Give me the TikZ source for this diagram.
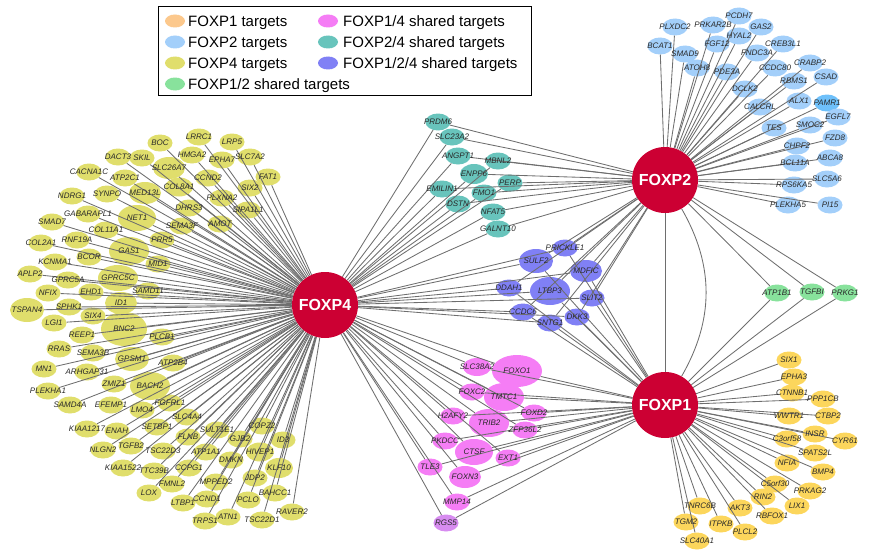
\documentclass[tikz,border=0pt]{standalone}
\usepackage{fontspec}
\setmainfont{Liberation Sans}
\usetikzlibrary{shapes.geometric}
\pgfdeclarelayer{fg}
\pgfsetlayers{main,fg}
\definecolor{hubc}{RGB}{204,0,51}
\definecolor{cA}{RGB}{252,214,92}
\definecolor{cAleg}{RGB}{252,200,140}
\definecolor{cB}{RGB}{163,207,250}
\definecolor{cBb}{RGB}{110,192,250}
\definecolor{cC}{RGB}{224,222,108}
\definecolor{cAC}{RGB}{245,125,245}
\definecolor{cRGS}{RGB}{215,140,240}
\definecolor{cBC}{RGB}{104,196,188}
\definecolor{cABC}{RGB}{128,128,245}
\definecolor{cAB}{RGB}{136,226,156}
\definecolor{lblc}{RGB}{40,40,40}
\definecolor{edgec}{RGB}{110,110,110}
\tikzset{
 tgt/.style={ellipse, inner sep=0pt, draw=none},
 lbl/.style={font=\fontsize{8}{8}\selectfont\itshape, text=lblc, inner sep=0pt},
 hubnode/.style={circle, fill=hubc, minimum size=66pt, inner sep=0pt, text=white, font=\fontsize{16}{16}\selectfont\bfseries},
 edge/.style={draw=edgec, line width=0.85pt},
 legtxt/.style={font=\fontsize{15}{15}\selectfont, anchor=base west, inner sep=0pt},
 legdot/.style={ellipse, inner sep=0pt, minimum width=20pt, minimum height=13pt},
}
\newcommand{\tg}[6]{%
 \node[tgt, fill=#1, minimum width=#5pt, minimum height=#6pt] (#4) at (#2,#3) {};
 \begin{pgfonlayer}{fg}\node[lbl] (#4-l) at (#2,#3) {#4};\end{pgfonlayer}}
\newcommand{\ts}[4]{\tg{#1}{#2}{#3}{#4}{25}{17}}
\begin{document}
\begin{tikzpicture}[x=1pt,y=-1pt]
\useasboundingbox (0,0) rectangle (875,551);
% hubs
\begin{pgfonlayer}{fg}
\node[hubnode] (FOXP4) at (325,305) {FOXP4};
\node[hubnode] (FOXP2) at (665,180) {FOXP2};
\node[hubnode] (FOXP1) at (665,405) {FOXP1};
\end{pgfonlayer}
% FOXP4 targets
\ts{cC}{160}{143}{BOC}
\ts{cC}{199}{137}{LRRC1}
\ts{cC}{232}{142}{LRP5}
\ts{cC}{192}{155}{HMGA2}
\ts{cC}{118}{157}{DACT3}
\ts{cC}{142}{158}{SKIL}
\ts{cC}{222}{160}{EPHA7}
\ts{cC}{250}{157}{SLC7A2}
\tg{cC}{169}{168}{SLC26A7}{32}{22}
\ts{cC}{89}{172}{CACNA1C}
\ts{cC}{208}{178}{CCND2}
\ts{cC}{268}{177}{FAT1}
\ts{cC}{125}{178}{ATP2C1}
\tg{cC}{179}{187}{COL8A1}{28}{19}
\ts{cC}{250}{188}{SIX2}
\ts{cC}{72}{196}{NDRG1}
\ts{cC}{107}{194}{SYNPO}
\tg{cC}{145}{193}{MED13L}{32}{22}
\ts{cC}{222}{198}{PLXNA2}
\ts{cC}{189}{208}{DHRS3}
\ts{cC}{248}{210}{SIPA1L1}
\ts{cC}{88}{214}{GABARAPL1}
\tg{cC}{137}{218}{NET1}{38}{26}
\ts{cC}{52}{222}{SMAD7}
\ts{cC}{220}{224}{AMOT}
\ts{cC}{182}{226}{SEMA3F}
\ts{cC}{106}{230}{COL11A1}
\ts{cC}{162}{240}{PRR5}
\ts{cC}{77}{240}{RNF19A}
\ts{cC}{41}{243}{COL2A1}
\tg{cC}{129}{251}{GAS1}{40}{28}
\ts{cC}{89}{257}{BCOR}
\ts{cC}{158}{264}{MID1}
\ts{cC}{55}{262}{KCNMA1}
\ts{cC}{30}{274}{APLP2}
\tg{cC}{118}{278}{GPRC5C}{40}{26}
\ts{cC}{68}{280}{GPRC5A}
\ts{cC}{148}{291}{SAMD11}
\ts{cC}{91}{292}{EHD1}
\ts{cC}{48}{293}{NFIX}
\tg{cC}{121}{303}{ID1}{32}{22}
\tg{cC}{27}{310}{TSPAN4}{34}{24}
\ts{cC}{69}{307}{SPHK1}
\ts{cC}{93}{316}{SIX4}
\ts{cC}{54}{323}{LGI1}
\tg{cC}{124}{329}{BNC2}{46}{34}
\ts{cC}{82}{335}{REEP1}
\ts{cC}{162}{337}{PLCB1}
\ts{cC}{59}{349}{RRAS}
\ts{cC}{93}{353}{SEMA3B}
\tg{cC}{132}{359}{GPSM1}{34}{24}
\ts{cC}{173}{363}{ATP2B4}
\ts{cC}{44}{369}{MN1}
\ts{cC}{87}{372}{ARHGAP31}
\ts{cC}{114}{384}{ZMIZ1}
\tg{cC}{150}{386}{BACH2}{40}{28}
\ts{cC}{48}{391}{PLEKHA1}
\ts{cC}{70}{405}{SAMD4A}
\ts{cC}{111}{405}{EFEMP1}
\ts{cC}{142}{410}{LMO4}
\ts{cC}{170}{403}{FGFRL1}
\ts{cC}{187}{417}{SLC4A4}
\ts{cC}{87}{429}{KIAA1217}
\ts{cC}{117}{431}{ENAH}
\ts{cC}{157}{427}{SETBP1}
\ts{cC}{217}{430}{SULT1E1}
\ts{cC}{262}{426}{COPZ2}
\ts{cC}{188}{437}{FLNB}
\ts{cC}{240}{439}{GJB2}
\ts{cC}{283}{440}{ID3}
\ts{cC}{103}{450}{NLGN2}
\ts{cC}{131}{446}{TGFB2}
\ts{cC}{163}{451}{TSC22D3}
\ts{cC}{206}{452}{ATP1A1}
\tg{cC}{260}{452}{HIVEP1}{28}{19}
\ts{cC}{231}{460}{DMKN}
\tg{cC}{279}{468}{KLF10}{28}{20}
\ts{cC}{123}{468}{KIAA1522}
\ts{cC}{154}{471}{TTC39B}
\ts{cC}{189}{468}{CCPG1}
\ts{cC}{255}{478}{JDP2}
\ts{cC}{172}{484}{FMNL2}
\ts{cC}{216}{482}{MPPED2}
\ts{cC}{149}{493}{LOX}
\ts{cC}{275}{493}{BAHCC1}
\ts{cC}{183}{503}{LTBP1}
\ts{cC}{207}{499}{CCND1}
\ts{cC}{248}{500}{PCLO}
\ts{cC}{292}{512}{RAVER2}
\ts{cC}{205}{521}{TRPS1}
\ts{cC}{228}{517}{ATN1}
\ts{cC}{262}{520}{TSC22D1}
% FOXP2 targets
\ts{cB}{739}{16}{PCDH7}
\ts{cB}{675}{27}{PLXDC2}
\ts{cB}{713}{25}{PRKAR2B}
\ts{cB}{761}{27}{GAS2}
\ts{cB}{739}{36}{HYAL2}
\ts{cB}{660}{46}{BCAT1}
\ts{cB}{717}{44}{FGF12}
\ts{cB}{783}{44}{CREB3L1}
\ts{cB}{685}{54}{SMAD9}
\ts{cB}{757}{53}{FNDC3A}
\ts{cB}{810}{63}{CRABP2}
\ts{cB}{697}{68}{ATOH8}
\ts{cB}{775}{68}{CCDC80}
\ts{cB}{727}{72}{PDE3A}
\ts{cB}{826}{77}{CSAD}
\ts{cB}{794}{81}{RBMS1}
\ts{cB}{745}{89}{DCLK2}
\ts{cB}{799}{101}{ALX1}
\ts{cBb}{827}{103}{PAMR1}
\ts{cB}{760}{107}{CALCRL}
\ts{cB}{838}{117}{EGFL7}
\ts{cB}{774}{128}{TES}
\ts{cB}{810}{125}{SMOC2}
\ts{cB}{835}{138}{FZD8}
\ts{cB}{797}{146}{CHPF2}
\ts{cB}{830}{158}{ABCA8}
\ts{cB}{795}{163}{BCL11A}
\ts{cB}{827}{179}{SLC5A6}
\ts{cB}{794}{185}{RPS6KA5}
\ts{cB}{788}{205}{PLEKHA5}
\ts{cB}{830}{205}{PI15}
% FOXP2/4
\ts{cBC}{438}{122}{PRDM6}
\ts{cBC}{452}{137}{SLC23A2}
\ts{cBC}{458}{156}{ANGPT1}
\ts{cBC}{498}{161}{MBNL2}
\tg{cBC}{474}{174}{ENPP6}{28}{20}
\ts{cBC}{510}{183}{PERP}
\ts{cBC}{442}{189}{EMILIN1}
\ts{cBC}{484}{193}{FMO1}
\ts{cBC}{458}{204}{DSTN}
\ts{cBC}{493}{212}{NFAT5}
\ts{cBC}{498}{229}{GALNT10}
% FOXP1/2/4
\ts{cABC}{565}{248}{PRICKLE1}
\tg{cABC}{536}{261}{SULF2}{34}{24}
\tg{cABC}{586}{271}{MDFIC}{32}{22}
\ts{cABC}{509}{288}{DDAH1}
\tg{cABC}{550}{291}{LTBP3}{40}{28}
\ts{cABC}{592}{298}{SLIT2}
\ts{cABC}{523}{312}{CCDC6}
\ts{cABC}{577}{317}{DKK3}
\ts{cABC}{550}{323}{SNTG1}
% FOXP1/4
\tg{cAC}{477}{367}{SLC38A2}{28}{18}
\tg{cAC}{517}{371}{FOXO1}{50}{32}
\ts{cAC}{472}{392}{FOXC2}
\tg{cAC}{504}{397}{TMTC1}{40}{28}
\ts{cAC}{534}{413}{FOXD2}
\ts{cAC}{453}{416}{H2AFY2}
\tg{cAC}{489}{423}{TRIB2}{40}{28}
\ts{cAC}{525}{430}{ZFP36L2}
\ts{cAC}{445}{441}{PKDCC}
\tg{cAC}{474}{452}{CTSF}{38}{26}
\ts{cAC}{508}{458}{EXT1}
\ts{cAC}{430}{467}{TLE3}
\tg{cAC}{465}{477}{FOXN3}{32}{22}
\ts{cAC}{457}{502}{MMP14}
\ts{cRGS}{446}{523}{RGS5}
% FOXP1 targets
\ts{cA}{789}{360}{SIX1}
\ts{cA}{794}{377}{EPHA3}
\ts{cA}{792}{393}{CTNNB1}
\ts{cA}{823}{399}{PPP1CB}
\ts{cA}{789}{416}{WWTR1}
\ts{cA}{828}{416}{CTBP2}
\ts{cA}{815}{434}{INSR}
\ts{cA}{845}{441}{CYR61}
\ts{cA}{787}{439}{C3orf58}
\ts{cA}{815}{453}{SPATS2L}
\ts{cA}{787}{463}{NFIA}
\ts{cA}{823}{472}{BMP4}
\ts{cA}{775}{484}{C5orf30}
\ts{cA}{810}{491}{PRKAG2}
\ts{cA}{763}{497}{RIN2}
\ts{cA}{797}{506}{LIX1}
\ts{cA}{740}{508}{AKT3}
\ts{cA}{700}{506}{TNRC6B}
\ts{cA}{772}{516}{RBFOX1}
\ts{cA}{686}{522}{TGM2}
\ts{cA}{721}{524}{ITPKB}
\ts{cA}{745}{532}{PLCL2}
\ts{cA}{697}{541}{SLC40A1}
% FOXP1/2
\ts{cAB}{777}{293}{ATP1B1}
\ts{cAB}{812}{292}{TGFBI}
\ts{cAB}{845}{293}{PRKG1}
% edges
\foreach \n in {BOC,LRRC1,LRP5,HMGA2,DACT3,SKIL,EPHA7,SLC7A2,SLC26A7,CACNA1C,CCND2,FAT1,ATP2C1,COL8A1,SIX2,NDRG1,SYNPO,MED13L,PLXNA2,DHRS3,SIPA1L1,GABARAPL1,NET1,SMAD7,AMOT,SEMA3F,COL11A1,PRR5,RNF19A,COL2A1,GAS1,BCOR,MID1,KCNMA1,APLP2,GPRC5C,GPRC5A,SAMD11,EHD1,NFIX,ID1,TSPAN4,SPHK1,SIX4,LGI1,BNC2,REEP1,PLCB1,RRAS,SEMA3B,GPSM1,ATP2B4,MN1,ARHGAP31,ZMIZ1,BACH2,PLEKHA1,SAMD4A,EFEMP1,LMO4,FGFRL1,SLC4A4,KIAA1217,ENAH,SETBP1,SULT1E1,COPZ2,FLNB,GJB2,ID3,NLGN2,TGFB2,TSC22D3,ATP1A1,HIVEP1,DMKN,KLF10,KIAA1522,TTC39B,CCPG1,JDP2,FMNL2,MPPED2,LOX,BAHCC1,LTBP1,CCND1,PCLO,RAVER2,TRPS1,ATN1,TSC22D1}
 \draw[edge] (\n) -- (FOXP4);
\foreach \n in {PCDH7,PLXDC2,PRKAR2B,GAS2,HYAL2,BCAT1,FGF12,CREB3L1,SMAD9,FNDC3A,CRABP2,ATOH8,CCDC80,PDE3A,CSAD,RBMS1,DCLK2,ALX1,PAMR1,CALCRL,EGFL7,TES,SMOC2,FZD8,CHPF2,ABCA8,BCL11A,SLC5A6,RPS6KA5,PLEKHA5,PI15}
 \draw[edge] (\n) -- (FOXP2);
\foreach \n in {SIX1,EPHA3,CTNNB1,PPP1CB,WWTR1,CTBP2,INSR,CYR61,C3orf58,SPATS2L,NFIA,BMP4,C5orf30,PRKAG2,RIN2,LIX1,AKT3,TNRC6B,RBFOX1,TGM2,ITPKB,PLCL2,SLC40A1}
 \draw[edge] (\n) -- (FOXP1);
\foreach \n in {PRDM6,SLC23A2,ANGPT1,MBNL2,ENPP6,PERP,EMILIN1,FMO1,DSTN,NFAT5,GALNT10}
 {\draw[edge] (\n) -- (FOXP4); \draw[edge] (\n) -- (FOXP2);}
\foreach \n in {PRICKLE1,SULF2,MDFIC,DDAH1,LTBP3,SLIT2,CCDC6,DKK3,SNTG1}
 {\draw[edge] (\n) -- (FOXP4); \draw[edge] (\n) -- (FOXP2); \draw[edge] (\n) -- (FOXP1);}
\foreach \n in {SLC38A2,FOXO1,FOXC2,TMTC1,FOXD2,H2AFY2,TRIB2,ZFP36L2,PKDCC,CTSF,EXT1,TLE3,FOXN3,MMP14,RGS5}
 {\draw[edge] (\n) -- (FOXP4); \draw[edge] (\n) -- (FOXP1);}
\foreach \n in {ATP1B1,TGFBI,PRKG1}
 {\draw[edge] (\n) -- (FOXP2); \draw[edge] (\n) -- (FOXP1);}
\draw[edge] (FOXP2) -- (FOXP1);
\draw[edge] (FOXP2) to[bend left=30] (FOXP1);
% legend
\node[draw=black, line width=1.2pt, fill=white, minimum width=373pt, minimum height=89pt, inner sep=0pt, anchor=north west] (legbox) at (158,6) {};
\node[legdot, fill=cAleg] (lg1) at (175,21) {};
\node[legdot, fill=cB] (lg2) at (175,42) {};
\node[legdot, fill=cC] (lg3) at (175,63) {};
\node[legdot, fill=cAB] (lg4) at (175,84) {};
\node[legdot, fill=cAC] (lg5) at (328,21) {};
\node[legdot, fill=cBC] (lg6) at (328,42) {};
\node[legdot, fill=cABC] (lg7) at (328,63) {};
\node[legtxt] (lt1) at (188,26.5) {FOXP1 targets};
\node[legtxt] (lt2) at (188,47.5) {FOXP2 targets};
\node[legtxt] (lt3) at (188,68.5) {FOXP4 targets};
\node[legtxt] (lt4) at (188,89.5) {FOXP1/2 shared targets};
\node[legtxt] (lt5) at (343,26.5) {FOXP1/4 shared targets};
\node[legtxt] (lt6) at (343,47.5) {FOXP2/4 shared targets};
\node[legtxt] (lt7) at (343,68.5) {FOXP1/2/4 shared targets};
\end{tikzpicture}
\end{document}
